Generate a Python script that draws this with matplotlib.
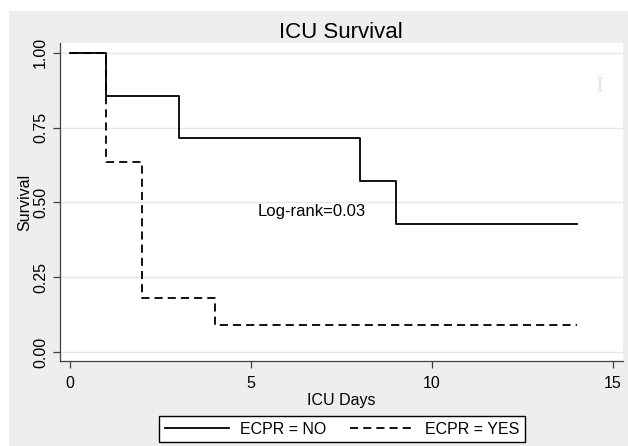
import numpy as np
import matplotlib
matplotlib.use('Agg')
import matplotlib.pyplot as plt
from matplotlib.patches import Rectangle

# Kaplan-Meier step values
days_no = [0, 1, 3, 8, 9, 14]
surv_no = [1.0, 0.857, 0.714, 0.571, 0.429, 0.429]
days_yes = [0, 1, 2, 4, 14]
surv_yes = [1.0, 0.636, 0.182, 0.091, 0.091]

xticks = [0, 5, 10, 15]
yticks = [0.0, 0.25, 0.5, 0.75, 1.0]
ytick_labels = ['0.00', '0.25', '0.50', '0.75', '1.00']

plt.rcParams['font.family'] = ['Liberation Sans', 'DejaVu Sans']

W, H = 628, 446
fig = plt.figure(figsize=(W / 100, H / 100), dpi=100, facecolor='white')
# grey Stata-like background, offset from the top-left
fig.patches.append(Rectangle((9 / W, 0), 1 - 9 / W, 1 - 11 / H,
                             transform=fig.transFigure, facecolor='#eeeeee',
                             edgecolor='none', zorder=-5))

ax = fig.add_axes([60 / W, 1 - 361 / H, (623 - 60) / W, (361 - 43) / H])
ax.set_facecolor('white')

ax.plot(days_no, surv_no, drawstyle='steps-post', color='black', lw=1.3,
        label='ECPR = NO')
ax.plot(days_yes, surv_yes, drawstyle='steps-post', color='black', lw=1.3,
        linestyle=(0, (4.5, 2.8)), label='ECPR = YES')

ax.set_xlim(-0.28, 15.28)
ax.set_ylim(-0.03, 1.033)
ax.set_xticks(xticks)
ax.set_yticks(yticks)
ax.set_yticklabels(ytick_labels, rotation=90, va='center')
ax.tick_params(labelsize=11.5, color='#404040', length=5, width=0.9)
ax.tick_params(axis='x', pad=6)
ax.grid(axis='y', color='#e6e6e6', lw=1)
ax.set_axisbelow(True)
for s in ['top', 'right']:
    ax.spines[s].set_visible(False)
for s in ['left', 'bottom']:
    ax.spines[s].set_color('#404040')
    ax.spines[s].set_linewidth(0.9)

ax.set_xlabel('ICU Days', fontsize=11.5, labelpad=1)
ax.set_ylabel('Survival', fontsize=11.5, labelpad=1)
fig.text(341 / W, 1 - 32 / H, 'ICU Survival', fontsize=16, ha='center', va='center')
ax.text(5.19, 0.47, 'Log-rank=0.03', fontsize=12, va='center')
# faint cursor mark captured in the screenshot
ax.text(14.65, 0.887, 'I', fontsize=15, color='#e4e4e4', family='DejaVu Serif',
        ha='center', va='center')

fig.legend(loc='center', bbox_to_anchor=(342 / W, 1 - 429 / H), ncol=2,
           fontsize=11.5, frameon=True, fancybox=False, edgecolor='black',
           framealpha=1, handlelength=4, columnspacing=1.5,
           borderpad=0.35, handletextpad=0.7)

fig.savefig('out.png', dpi=100, facecolor='white')
